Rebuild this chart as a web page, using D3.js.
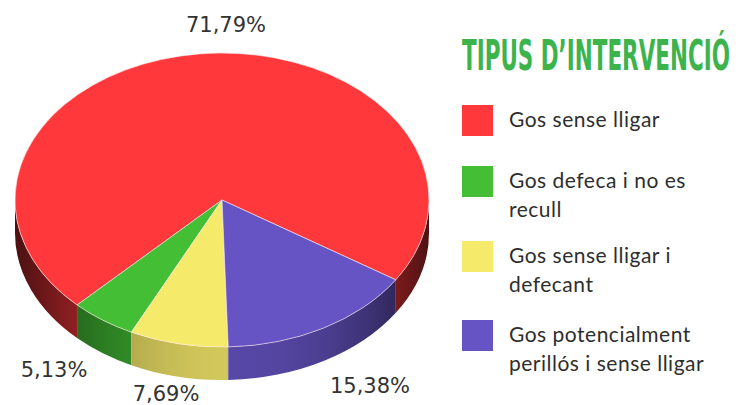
<!DOCTYPE html>
<html>
<head>
<meta charset="utf-8">
<script src="https://cdn.jsdelivr.net/npm/d3@7"></script>
<style>
  html, body { margin: 0; padding: 0; background: #fff; }
  svg { display: block; }
</style>
</head>
<body>
<svg id="chart" width="748" height="405"></svg>
<script>
// ---- data ----
const categories = ["Gos sense lligar", "Gos defeca i no es recull", "Gos sense lligar i defecant", "Gos potencialment perillós i sense lligar"];
const legendLines = [["Gos sense lligar"], ["Gos defeca i no es", "recull"], ["Gos sense lligar i", "defecant"], ["Gos potencialment", "perillós i sense lligar"]];
const values = [71.79, 5.13, 7.69, 15.38];
const valueLabels = ["71,79%", "5,13%", "7,69%", "15,38%"];
const colors = ["#ff383c", "#44bf35", "#f6ea6a", "#6654c4"];
const title = "TIPUS D\u2019INTERVENCIÓ";

// ---- layout ----
const svg = d3.select("#chart");
const cx = 222, cy = 200, rx = 207, ry = 147, depth = 33;
const startDeg = 392.9; // screen angle (deg, clockwise from +x) where first slice begins; slices proceed counter-clockwise

const pie = d3.pie().sort(null).value(d => d)(values);
const rad = Math.PI / 180;
const toScreen = a => startDeg - a / rad; // pie angle (rad) -> screen degrees
const P = (deg, dy = 0) => [cx + rx * Math.cos(deg * rad), cy + ry * Math.sin(deg * rad) + dy];

const defs = svg.append("defs");

function shade(deg) {
  let d = ((deg - 88) % 360 + 540) % 360 - 180;
  const c = Math.max(0, Math.cos(d * rad));
  return 0.3 + 0.55 * c * c;
}

const slices = pie.map((p, i) => {
  const hi = toScreen(p.startAngle), lo = toScreen(p.endAngle);
  return { i, lo, hi };
});

// ---- side walls ----
const sideG = svg.append("g");
slices.forEach(s => {
  for (let k = -1; k <= 2; k++) {
    const a = Math.max(s.lo, k * 360), b = Math.min(s.hi, k * 360 + 180);
    if (b <= a) continue;
    const p1 = P(a), p2 = P(b), p3 = P(b, depth), p4 = P(a, depth);
    const gid = `side-${s.i}-${k}`;
    const grad = defs.append("linearGradient").attr("id", gid)
      .attr("gradientUnits", "userSpaceOnUse")
      .attr("x1", p1[0]).attr("y1", 0).attr("x2", p2[0]).attr("y2", 0);
    const base = d3.rgb(colors[s.i]);
    const N = 10;
    for (let j = 0; j <= N; j++) {
      const t = a + (b - a) * j / N;
      const x = P(t)[0];
      const off = (p2[0] === p1[0]) ? 0 : (x - p1[0]) / (p2[0] - p1[0]);
      const f = shade(t);
      grad.append("stop").attr("offset", Math.max(0, Math.min(1, off)))
        .attr("stop-color", d3.rgb(base.r * f, base.g * f, base.b * f).formatHex());
    }
    const large = (b - a) > 180 ? 1 : 0;
    const d = `M${p1}A${rx},${ry} 0 ${large} 1 ${p2}L${p3}A${rx},${ry} 0 ${large} 0 ${p4}Z`;
    sideG.append("path").attr("d", d).attr("fill", `url(#${gid})`);
  }
});

// ---- top faces ----
const topG = svg.append("g");
slices.forEach(s => {
  const p1 = P(s.lo), p2 = P(s.hi);
  const large = (s.hi - s.lo) > 180 ? 1 : 0;
  topG.append("path")
    .attr("d", `M${cx},${cy}L${p1}A${rx},${ry} 0 ${large} 1 ${p2}Z`)
    .attr("fill", colors[s.i])
    .attr("stroke", "rgba(255,235,235,0.75)")
    .attr("stroke-width", 0.8)
    .attr("stroke-linejoin", "round");
});

// ---- value labels ----
const labelPos = [[226, 32], [54, 377], [166, 401], [370, 393]];
svg.append("g").selectAll("text").data(valueLabels).join("text")
  .attr("x", (d, i) => labelPos[i][0])
  .attr("y", (d, i) => labelPos[i][1])
  .attr("text-anchor", "middle")
  .attr("font-family", "'DejaVu Sans', sans-serif")
  .attr("font-size", 21)
  .attr("fill", "#333")
  .text(d => d);

// ---- legend ----
const titleText = svg.append("text")
  .attr("x", 0).attr("y", 0)
  .attr("font-family", "'DejaVu Sans Condensed', 'Liberation Sans Narrow', 'DejaVu Sans', sans-serif")
  .attr("font-weight", "bold")
  .attr("font-size", 42)
  .attr("fill", "#3db34c")
  .text(title);
const natural = titleText.node().getComputedTextLength();
titleText.attr("transform", `translate(462,70) scale(${268 / natural},1)`);

const squareY = [105, 166, 241, 320];
const lg = svg.append("g");
categories.forEach((c, i) => {
  lg.append("rect").attr("x", 462).attr("y", squareY[i]).attr("width", 31).attr("height", 31)
    .attr("fill", colors[i]);
  const t = lg.append("text")
    .attr("font-family", "Lato, 'Open Sans', sans-serif")
    .attr("font-size", 21)
    .attr("letter-spacing", 0.5)
    .attr("fill", "#2e2e2e");
  legendLines[i].forEach((line, j) => {
    t.append("tspan").attr("x", 509).attr("y", squareY[i] + 22 + j * 29).text(line);
  });
});
</script>
</body>
</html>
